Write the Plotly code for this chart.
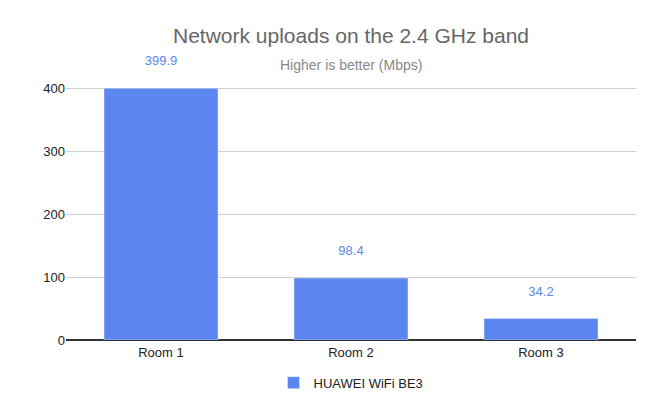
import plotly.graph_objects as go

rooms = ['Room 1', 'Room 2', 'Room 3']
uploads = [399.9, 98.4, 34.2]
series_name = 'HUAWEI WiFi BE3'

fig = go.Figure()
fig.add_trace(go.Bar(
    x=rooms, y=uploads, name=series_name,
    marker_color='#5b86f0',
    text=[f'{v:.1f}<br> ' for v in uploads], textposition='outside',
    textfont=dict(color='#5b86f0', size=13),
    width=0.6, cliponaxis=False,
))

fig.update_layout(
    width=648, height=402,
    paper_bgcolor='white', plot_bgcolor='white',
    font=dict(family='Arial, Liberation Sans', color='#222'),
    title=dict(text='Network uploads on the 2.4 GHz band',
               x=0.5, xref='paper', y=0.93, yanchor='middle', xanchor='center',
               font=dict(size=21, color='#666')),
    annotations=[dict(text='Higher is better (Mbps)', x=0.5, xref='paper', y=57, yref='paper',
                      showarrow=False, font=dict(size=14, color='#888'))],
    margin=dict(l=58, r=20, t=55, b=68),
    showlegend=True,
    legend=dict(orientation='h', x=0.5, xanchor='center', y=-0.1, font=dict(size=13)),
)
# subtitle placed in pixels via paper coordinates
plot_h = 402 - 55 - 68
fig.layout.annotations[0].y = 1 + (55 - 57) / plot_h
fig.layout.annotations[0].yanchor = 'middle'
fig.update_yaxes(range=[0, 440], tickvals=[0, 100, 200, 300, 400], gridcolor='#d0d0d0',
                 zeroline=True, zerolinecolor='#333', tickfont=dict(size=13))
fig.update_xaxes(tickfont=dict(size=13), showline=True, linecolor='#333')

fig.write_html('out.html')
